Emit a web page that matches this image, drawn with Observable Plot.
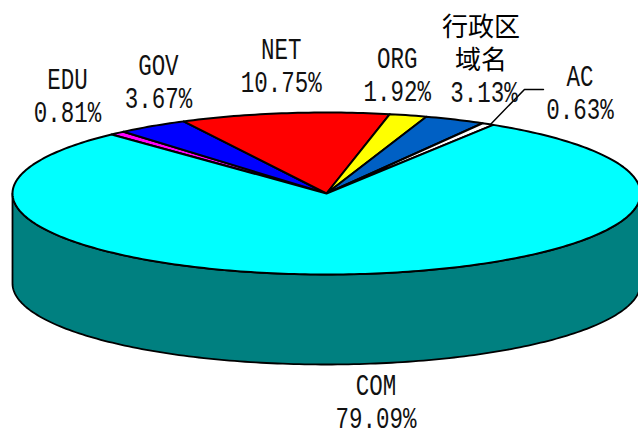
<!DOCTYPE html>
<html><head><meta charset="utf-8">
<script src="https://cdn.jsdelivr.net/npm/d3@7"></script>
<script src="https://cdn.jsdelivr.net/npm/@observablehq/plot@0.6"></script>
<style>
html,body{margin:0;padding:0;background:#fff;overflow:hidden}
</style></head><body><div id="chart"></div>
<script>
// Data
const names = ["EDU","GOV","NET","ORG","行政区域名","AC","COM"];
const shares = [0.81,3.67,10.75,1.92,3.13,0.63,79.09];
const valueLabels = ["0.81%","3.67%","10.75%","1.92%","3.13%","0.63%","79.09%"];
const nameLines = [["EDU"],["GOV"],["NET"],["ORG"],["行政区","域名"],["AC"],["COM"]];
const colors = ["#ff00ff","#0000ff","#ff0000","#ffff00","#0060c4","#ffffff","#00ffff"];

// Layout (unit-disc space → pixels through the Plot scales)
const W=638,H=428,cx=326,rx=314,cy=193,ry=81,depthPx=90,startDeg=-43.2;
const depth=depthPx/ry, lineGap=33;
const labelOffsets=[[-50,-21],[6,-28],[-3,-31],[-11,-24],[29,-27],[92,-15],[19,144]];
const wallColor="#008080";

const rim=(deg,drop=0)=>{const t=deg*Math.PI/180;return {x:Math.sin(t),y:Math.cos(t)-drop};};
const total=d3.sum(shares);
let acc=startDeg;
const slices=names.map((name,i)=>{const a=acc,b=acc+shares[i]/total*360;acc=b;return {name,a,b,mid:(a+b)/2,i};});

const arc=(a,b,drop=0)=>{const n=Math.max(2,Math.ceil(Math.abs(b-a)));return d3.range(n+1).map(k=>rim(a+(b-a)*k/n,drop));};
const topRows=slices.flatMap(s=>[{x:0,y:0},...arc(s.a,s.b)].map(p=>({...p,name:s.name})));
const wallRows=[...arc(90,270,depth),...arc(270,90)].map(p=>({...p,name:"wall"}));

const textRows=slices.flatMap(s=>{
  const m=rim(s.mid),[dx,dy]=labelOffsets[s.i];
  const px=m.x+dx/rx, py=m.y-dy/ry;
  const lines=[...nameLines[s.i],valueLabels[s.i]];
  return lines.map((t,k)=>({t,x:px,y:py+(lines.length-1-k)*lineGap/ry,cjk:/[^\x00-\x7f]/.test(t)}));
});
const acIndex=names.indexOf("AC");
const acRim=rim(slices[acIndex].b-0.6);
const leader=[acRim,{x:acRim.x+34/rx,y:acRim.y+35/ry},{x:acRim.x+53/rx,y:acRim.y+35/ry}];

const latinFont="'Liberation Mono',monospace";
const plot=Plot.plot({
  width:W,height:H,margin:0,
  x:{domain:[-1,1],range:[cx-rx,cx+rx],axis:null},
  y:{domain:[1,-1],range:[cy-ry,cy+ry],axis:null},
  color:{domain:[...names,"wall"],range:[...colors,wallColor]},
  style:{background:"#fff"},
  marks:[
    Plot.line(wallRows,{x:"x",y:"y",z:"name",fill:"name",stroke:"#000",strokeWidth:1.8,curve:"linear-closed",strokeLinejoin:"round"}),
    Plot.line(topRows,{x:"x",y:"y",z:"name",fill:"name",stroke:"#000",strokeWidth:2,curve:"linear-closed",strokeLinejoin:"round"}),
    Plot.line(leader,{x:"x",y:"y",stroke:"#000",strokeWidth:1.5,curve:"linear"}),
    Plot.text(textRows.filter(d=>!d.cjk),{x:"x",y:"y",text:"t",fontFamily:latinFont,fontSize:30,fill:"#111",className:"latin"}),
    Plot.text(textRows.filter(d=>d.cjk),{x:"x",y:"y",dx:-3,dy:1,text:"t",fontFamily:"'Noto Sans CJK SC',sans-serif",fontSize:26,fill:"#000"})
  ]
});
// The reference's Latin face is a condensed monospace: squeeze each label horizontally about its own centre.
plot.querySelectorAll(".latin text").forEach(t=>{
  t.setAttribute("transform",(t.getAttribute("transform")||"")+" scale(0.75,1)");
});
document.getElementById("chart").appendChild(plot);
</script>
</body></html>
